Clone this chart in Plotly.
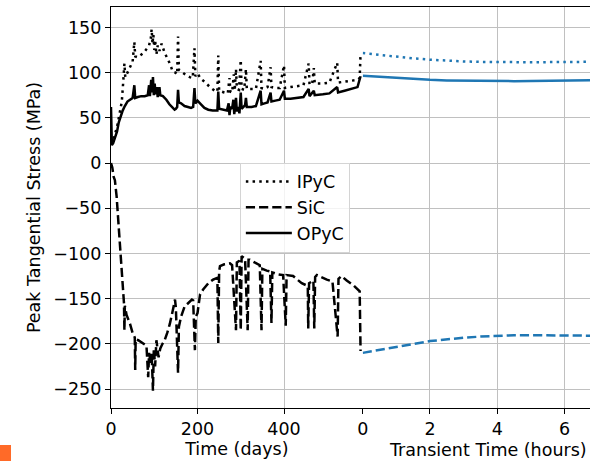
import plotly.graph_objects as go

# ---------------- data ----------------
ipyc_days = [0, 3, 8, 14, 18, 22, 25, 28, 31, 33, 38, 44, 50, 54, 56, 62, 70, 76, 82, 88, 92, 94, 96, 98,
             100, 102, 105, 108, 112, 117, 124, 130, 136, 143, 149, 153, 155, 157, 165, 174, 182, 189, 193,
             195, 200, 208, 216, 224, 231, 240, 246, 248, 250, 262, 270, 274, 276, 280, 284, 286, 289, 291,
             296, 300, 302, 308, 312, 314, 325, 335, 346, 348, 355, 362, 369, 371, 380, 390, 400, 402, 415,
             430, 445, 457, 459, 465, 469, 471, 490, 505, 523, 525, 540, 555, 570, 575, 577]
ipyc_vals = [20, 22, 30, 40, 50, 60, 68, 88, 110, 95, 100, 105, 112, 134, 118, 117, 120, 122, 126, 130, 138,
             148, 132, 142, 125, 136, 120, 130, 124, 132, 122, 116, 110, 101, 100, 98, 140, 103, 100, 97, 95,
             94, 127, 96, 99, 93, 90, 86, 83, 80, 79, 119, 80, 78, 77, 94, 79, 78, 98, 80, 104, 82, 81, 114,
             82, 81, 104, 82, 82, 82, 113, 83, 82, 84, 106, 84, 83, 83, 108, 83, 84, 85, 86, 110, 87, 87,
             105, 88, 88, 89, 111, 89, 90, 91, 92, 94, 121]

opyc_days = [0, 1, 2, 5, 9, 14, 18, 22, 27, 32, 38, 44, 50, 54, 56, 62, 70, 78, 85, 88, 90, 93, 95, 97, 99,
             101, 103, 106, 108, 112, 114, 120, 128, 135, 140, 147, 150, 153, 155, 157, 162, 170, 178, 185,
             190, 193, 195, 200, 208, 216, 225, 235, 246, 248, 250, 262, 268, 272, 274, 276, 280, 283, 285,
             287, 289, 291, 294, 297, 300, 302, 306, 310, 312, 314, 325, 335, 346, 348, 355, 362, 369, 371,
             380, 390, 400, 402, 415, 430, 445, 457, 459, 469, 471, 490, 505, 523, 525, 540, 555, 570, 577]
opyc_vals = [62, 30, 20, 22, 28, 35, 45, 52, 58, 63, 68, 70, 72, 86, 72, 73, 74, 74, 75, 86, 74, 92, 78, 95,
             75, 88, 76, 84, 73, 84, 75, 74, 70, 65, 62, 59, 60, 62, 81, 67, 66, 63, 62, 61, 62, 83, 66, 69,
             65, 61, 59, 58, 58, 79, 60, 59, 58, 66, 53, 62, 60, 70, 54, 63, 72, 57, 62, 55, 78, 60, 62, 64,
             72, 62, 62, 63, 80, 65, 66, 67, 78, 68, 69, 70, 80, 71, 71, 72, 73, 82, 74, 80, 75, 76, 77, 84,
             78, 80, 82, 84, 96]

sic_days = [0, 3, 6, 9, 13, 17, 21, 25, 28, 30, 31, 32, 36, 44, 50, 55, 56, 57, 63, 70, 78, 82, 86, 88, 92,
            94, 97, 99, 102, 105, 110, 114, 119, 124, 130, 136, 142, 148, 150, 155, 157, 162, 170, 178, 187,
            190, 194, 196, 200, 206, 213, 225, 236, 246, 248, 250, 252, 262, 275, 280, 289, 291, 297, 300,
            302, 310, 316, 318, 321, 332, 344, 348, 350, 360, 368, 371, 373, 385, 398, 404, 406, 421, 430,
            441, 455, 456, 458, 468, 470, 472, 476, 488, 499, 512, 524, 526, 533, 545, 560, 575, 577]
sic_vals = [0, -5, -15, -19, -37, -65, -93, -120, -144, -155, -185, -158, -168, -178, -188, -193, -229,
            -195, -196, -198, -200, -202, -237, -210, -222, -210, -252, -205, -225, -196, -215, -205, -200,
            -196, -188, -178, -165, -151, -160, -232, -181, -170, -159, -155, -151, -152, -207, -170, -166,
            -145, -140, -133, -129, -127, -199, -120, -114, -112, -111, -113, -185, -110, -108, -185, -103,
            -106, -185, -107, -107, -110, -113, -185, -117, -119, -120, -177, -121, -123, -124, -180, -124,
            -125, -129, -133, -136, -183, -133, -130, -183, -126, -124, -127, -129, -131, -192, -128, -125,
            -130, -135, -142, -208]

tr_hours = [0, 0.5, 1, 1.5, 2, 2.5, 3, 3.5, 4, 4.5, 5, 5.5, 6, 6.5, 6.8]
tr_ipyc = [121.6, 119.5, 117.5, 115.8, 114.3, 113.2, 112.4, 111.9, 111.6, 111.5, 111.5, 111.6, 111.7, 111.9, 112.0]
tr_opyc = [96.5, 95.2, 94.0, 92.9, 92.0, 91.4, 91.0, 90.7, 90.6, 90.6, 90.7, 90.8, 91.0, 91.3, 91.6]
tr_sic = [-210, -207, -203.6, -200.2, -197, -195, -193.3, -192, -191, -190.6, -190.5, -190.5, -190.6, -190.8, -191]

day_ticks = [0, 200, 400]
hour_ticks = [0, 2, 4, 6]

# ---------------- figure ----------------
FONT = "DejaVu Sans"
FS = 17.5
BLUE = "#1f77b4"
DOT = "2.5px,4.2px"
DASH = "9.2px,4px"

fig = go.Figure()
fig.add_trace(go.Scatter(x=ipyc_days, y=ipyc_vals, mode="lines", name="IPyC", legendgroup="a",
                         line=dict(color="black", width=2.5, dash=DOT), xaxis="x", yaxis="y"))
fig.add_trace(go.Scatter(x=sic_days, y=sic_vals, mode="lines", name="SiC", legendgroup="b",
                         line=dict(color="black", width=2.5, dash=DASH), xaxis="x", yaxis="y"))
fig.add_trace(go.Scatter(x=opyc_days, y=opyc_vals, mode="lines", name="OPyC", legendgroup="c",
                         line=dict(color="black", width=2.5), xaxis="x", yaxis="y"))

fig.add_trace(go.Scatter(x=tr_hours, y=tr_ipyc, mode="lines", showlegend=False,
                         line=dict(color=BLUE, width=2.5, dash=DOT), xaxis="x2", yaxis="y"))
fig.add_trace(go.Scatter(x=tr_hours, y=tr_sic, mode="lines", showlegend=False,
                         line=dict(color=BLUE, width=2.5, dash=DASH), xaxis="x2", yaxis="y"))
fig.add_trace(go.Scatter(x=tr_hours, y=tr_opyc, mode="lines", showlegend=False,
                         line=dict(color=BLUE, width=2.5), xaxis="x2", yaxis="y"))

GRID = "#c0c0c0"
common_x = dict(showgrid=True, gridcolor=GRID, gridwidth=1, zeroline=False, showline=True,
                linecolor="black", linewidth=1.2, mirror=True, ticks="outside", ticklen=5,
                tickcolor="black", tickfont=dict(family=FONT, size=FS, color="black"), anchor="y")
SPLIT = 0.5255
fig.update_layout(
    width=590, height=461,
    margin=dict(l=111, r=0, t=7, b=53),
    paper_bgcolor="white", plot_bgcolor="white",
    font=dict(family=FONT, size=FS, color="black"),
    xaxis=dict(domain=[0, SPLIT], range=[0, 582], tickvals=day_ticks,
               title=dict(text="Time (days)", font=dict(family=FONT, size=FS, color="black"), standoff=4),
               **common_x),
    xaxis2=dict(domain=[SPLIT, 1], range=[0, 6.76], tickvals=hour_ticks, **common_x),
    yaxis=dict(range=[-271, 172.6], tick0=0, dtick=50, anchor="x", showgrid=True, gridcolor=GRID,
               gridwidth=1, zeroline=False, showline=True, linecolor="black", linewidth=1.2,
               ticks="outside", ticklen=5, tickcolor="black",
               tickfont=dict(family=FONT, size=FS, color="black"),
               title=dict(text="Peak Tangential Stress (MPa)", font=dict(family=FONT, size=FS, color="black"),
                          standoff=8)),
    legend=dict(x=0.269, y=0.612, xanchor="left", yanchor="top", bgcolor="rgba(255,255,255,0.8)",
                bordercolor="#d4d4d4", borderwidth=1, font=dict(family=FONT, size=FS, color="black"),
                traceorder="grouped", tracegroupgap=0, itemwidth=46),
    annotations=[dict(text="Transient Time (hours)", xref="paper", yref="paper",
                      x=(488 - 111) / 479, y=-0.075, xanchor="center", yanchor="top", showarrow=False,
                      font=dict(family=FONT, size=FS, color="black"))],
    shapes=[dict(type="rect", xref="paper", yref="paper", x0=(0 - 111) / 479, x1=(11 - 111) / 479,
                 y0=(408 - 461) / 401, y1=(408 - 445) / 401, fillcolor="#ff6a28", line=dict(width=0))],
)

fig.write_html("out.html")
